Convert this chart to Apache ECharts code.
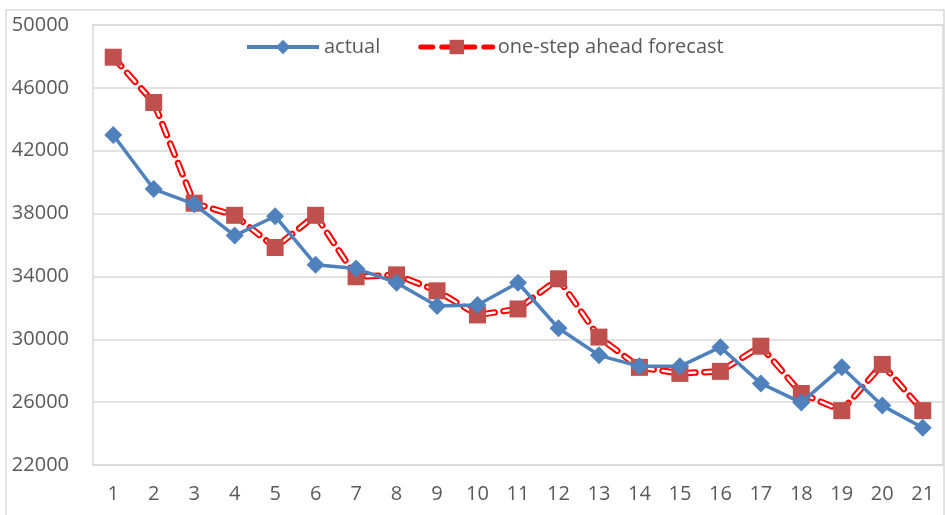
<!DOCTYPE html>
<html>
<head>
<meta charset="utf-8">
<script src="https://cdn.jsdelivr.net/npm/echarts@6/dist/echarts.min.js"></script>
<style>html,body{margin:0;padding:0;background:#fff}#c{width:945px;height:515px}</style>
</head>
<body>
<div id="c"></div>
<script>
const categories = ['1','2','3','4','5','6','7','8','9','10','11','12','13','14','15','16','17','18','19','20','21'];
const actual = [43000, 39560, 38600, 36600, 37830, 34750, 34500, 33600, 32120, 32180, 33600, 30700, 28980, 28280, 28280, 29500, 27190, 25970, 28215, 25780, 24370];
const forecast = [47950, 45070, 38660, 37890, 35840, 37890, 33980, 34100, 33085, 31550, 31930, 33850, 30140, 28215, 27830, 27960, 29560, 26550, 25460, 28400, 25460];
const yMin = 22000, yMax = 50000, yStep = 4000;

const font = 'Open Sans';
const chart = echarts.init(document.getElementById('c'));
chart.setOption({
  animation: false,
  backgroundColor: '#fff',
  textStyle: { fontFamily: font },
  graphic: [{
    type: 'rect', silent: true, z: -1,
    shape: { x: 6, y: 10, width: 938, height: 520 },
    style: { fill: 'none', stroke: '#d9d9d9', lineWidth: 1.5 }
  }],
  legend: {
    top: 32, left: 240,
    itemWidth: 72, itemHeight: 18, itemGap: 38,
    textStyle: { fontFamily: font, fontSize: 20, color: '#595959' },
    data: [
      { name: 'actual', lineStyle: { width: 4 } },
      { name: 'one-step ahead forecast', lineStyle: { width: 5 } }
    ]
  },
  grid: { left: 93, top: 25, right: 2, bottom: 50, show: true, borderColor: '#d9d9d9', borderWidth: 1.5 },
  xAxis: {
    type: 'category', data: categories, boundaryGap: true,
    axisLine: { lineStyle: { color: '#d9d9d9', width: 1.5 } },
    axisTick: { show: false },
    axisLabel: { color: '#595959', fontSize: 20, fontFamily: font, margin: 19 }
  },
  yAxis: {
    type: 'value', min: yMin, max: yMax, interval: yStep,
    axisLine: { show: false }, axisTick: { show: false },
    axisLabel: { color: '#595959', fontSize: 20, fontFamily: font, margin: 24, formatter: v => String(v) },
    splitLine: { lineStyle: { color: '#d9d9d9', width: 1.5 } }
  },
  series: [
    {
      name: 'actual', type: 'line', data: actual,
      symbol: 'diamond', symbolSize: 18,
      itemStyle: { color: '#4F81BD' },
      lineStyle: { color: '#4F81BD', width: 3.5 }, z: 3
    },
    {
      name: 'one-step ahead forecast', type: 'line', data: forecast,
      symbol: 'rect', symbolSize: 17,
      itemStyle: { color: '#C0504D' },
      lineStyle: { color: '#FF0000', width: 6.5, type: [12, 9], cap: 'round' }, z: 2
    },
    {
      name: 'forecast-inner', type: 'line', data: forecast,
      symbol: 'none', silent: true,
      lineStyle: { color: '#ffffff', width: 2.5, type: [12, 9], cap: 'round' }, z: 2
    }
  ]
});
</script>
</body>
</html>
